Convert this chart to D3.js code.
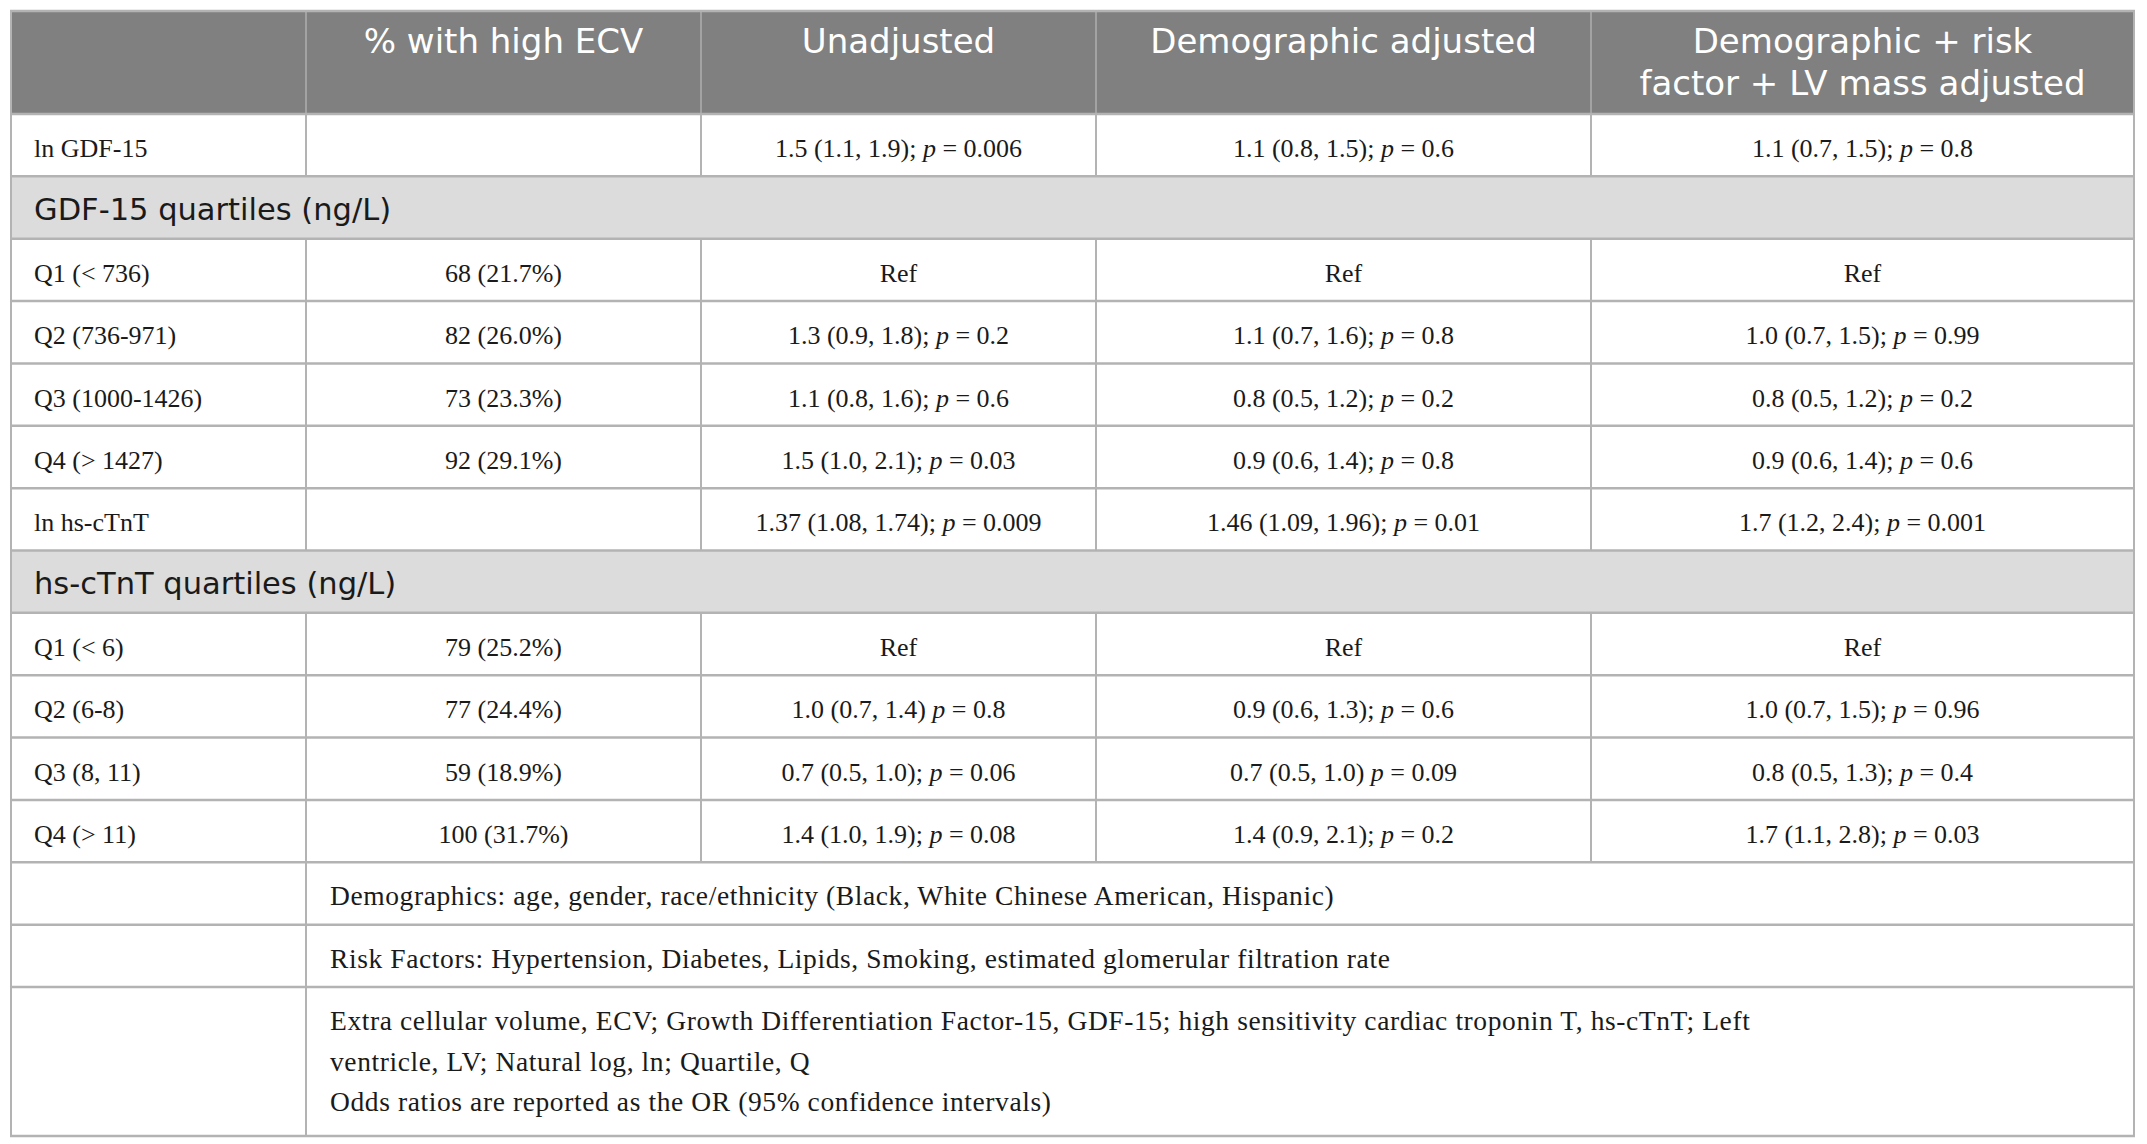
<!DOCTYPE html>
<html>
<head>
<meta charset="utf-8">
<script src="https://cdn.jsdelivr.net/npm/d3@7"></script>
<style>
  body { margin: 0; background: #fff; }
  svg { display: block; }
</style>
</head>
<body>
<div id="table"></div>
<script>
// datos de la tabla
const headers = [[""], ["% with high ECV"], ["Unadjusted"], ["Demographic adjusted"], ["Demographic + risk", "factor + LV mass adjusted"]];

const lnGdf = ["ln GDF-15", "", "1.5 (1.1, 1.9); p = 0.006", "1.1 (0.8, 1.5); p = 0.6", "1.1 (0.7, 1.5); p = 0.8"];
const gdfSection = "GDF-15 quartiles (ng/L)";
const gdfLabels = ["Q1 (< 736)", "Q2 (736-971)", "Q3 (1000-1426)", "Q4 (> 1427)"];
const gdfHighEcv = ["68 (21.7%)", "82 (26.0%)", "73 (23.3%)", "92 (29.1%)"];
const gdfUnadjusted = ["Ref", "1.3 (0.9, 1.8); p = 0.2", "1.1 (0.8, 1.6); p = 0.6", "1.5 (1.0, 2.1); p = 0.03"];
const gdfDemographic = ["Ref", "1.1 (0.7, 1.6); p = 0.8", "0.8 (0.5, 1.2); p = 0.2", "0.9 (0.6, 1.4); p = 0.8"];
const gdfFull = ["Ref", "1.0 (0.7, 1.5); p = 0.99", "0.8 (0.5, 1.2); p = 0.2", "0.9 (0.6, 1.4); p = 0.6"];

const lnTnt = ["ln hs-cTnT", "", "1.37 (1.08, 1.74); p = 0.009", "1.46 (1.09, 1.96); p = 0.01", "1.7 (1.2, 2.4); p = 0.001"];
const tntSection = "hs-cTnT quartiles (ng/L)";
const tntLabels = ["Q1 (< 6)", "Q2 (6-8)", "Q3 (8, 11)", "Q4 (> 11)"];
const tntHighEcv = ["79 (25.2%)", "77 (24.4%)", "59 (18.9%)", "100 (31.7%)"];
const tntUnadjusted = ["Ref", "1.0 (0.7, 1.4) p = 0.8", "0.7 (0.5, 1.0); p = 0.06", "1.4 (1.0, 1.9); p = 0.08"];
const tntDemographic = ["Ref", "0.9 (0.6, 1.3); p = 0.6", "0.7 (0.5, 1.0) p = 0.09", "1.4 (0.9, 2.1); p = 0.2"];
const tntFull = ["Ref", "1.0 (0.7, 1.5); p = 0.96", "0.8 (0.5, 1.3); p = 0.4", "1.7 (1.1, 2.8); p = 0.03"];

const notes = [
  ["Demographics: age, gender, race/ethnicity (Black, White Chinese American, Hispanic)"],
  ["Risk Factors: Hypertension, Diabetes, Lipids, Smoking, estimated glomerular filtration rate"],
  ["Extra cellular volume, ECV; Growth Differentiation Factor-15, GDF-15; high sensitivity cardiac troponin T, hs-cTnT; Left",
   "ventricle, LV; Natural log, ln; Quartile, Q",
   "Odds ratios are reported as the OR (95% confidence intervals)"]
];

// armar las filas
const quartileRows = (labels, ecv, un, dem, full) =>
  labels.map((l, i) => ({ type: "data", cells: [l, ecv[i], un[i], dem[i], full[i]] }));

const rows = [
  { type: "data", cells: lnGdf },
  { type: "section", text: gdfSection },
  ...quartileRows(gdfLabels, gdfHighEcv, gdfUnadjusted, gdfDemographic, gdfFull),
  { type: "data", cells: lnTnt },
  { type: "section", text: tntSection },
  ...quartileRows(tntLabels, tntHighEcv, tntUnadjusted, tntDemographic, tntFull),
  ...notes.map((lines) => ({ type: "note", lines }))
];

// dimensiones
const width = 2147, height = 1144;
const colEdges = [11, 306, 701, 1096, 1591, 2134];
const tableTop = 11, headerBottom = 114, bodyBottom = 987, lastBottom = 1136;
const lineColor = "#b3b3b3";
const serif = "'Liberation Serif', 'Times New Roman', serif";
const sans = "'DejaVu Sans', 'Open Sans', sans-serif";

const colX = d3.scaleOrdinal().domain(d3.range(6)).range(colEdges);
const shortRows = rows.slice(0, rows.length - 1);
const y = d3.scaleBand().domain(d3.range(shortRows.length)).range([headerBottom, bodyBottom]).padding(0);
const rowTop = (i) => (i < shortRows.length ? y(i) : bodyBottom);
const rowH = (i) => (i < shortRows.length ? y.bandwidth() : lastBottom - bodyBottom);

const svg = d3.select("#table").append("svg").attr("width", width).attr("height", height);

// fondo del encabezado
svg.append("rect")
  .attr("x", colX(0)).attr("y", tableTop)
  .attr("width", colX(5) - colX(0)).attr("height", headerBottom - tableTop)
  .attr("fill", "#808080");

// fondo de secciones
svg.selectAll("rect.section")
  .data(rows.map((r, i) => ({ r, i })).filter((d) => d.r.type === "section"))
  .join("rect")
  .attr("class", "section")
  .attr("x", colX(0)).attr("y", (d) => rowTop(d.i))
  .attr("width", colX(5) - colX(0)).attr("height", (d) => rowH(d.i))
  .attr("fill", "#dcdcdc");

// lineas verticales
const vLines = [];
for (let c = 1; c < 5; c++) {
  vLines.push({ x: colX(c), y1: tableTop, y2: headerBottom, color: "#a3a3a3" });
}
rows.forEach((r, i) => {
  if (r.type === "data") {
    for (let c = 1; c < 5; c++) vLines.push({ x: colX(c), y1: rowTop(i), y2: rowTop(i) + rowH(i), color: lineColor });
  } else if (r.type === "note") {
    vLines.push({ x: colX(1), y1: rowTop(i), y2: rowTop(i) + rowH(i), color: lineColor });
  }
});
vLines.push({ x: colX(0), y1: tableTop, y2: lastBottom, color: lineColor });
vLines.push({ x: colX(5), y1: tableTop, y2: lastBottom, color: lineColor });

svg.selectAll("line.v").data(vLines).join("line")
  .attr("class", "v")
  .attr("x1", (d) => d.x).attr("x2", (d) => d.x)
  .attr("y1", (d) => d.y1).attr("y2", (d) => d.y2)
  .attr("stroke", (d) => d.color).attr("stroke-width", 2);

// lineas horizontales
const hLines = [tableTop, headerBottom, ...rows.map((r, i) => rowTop(i) + rowH(i))];
svg.selectAll("line.h").data(hLines).join("line")
  .attr("class", "h")
  .attr("x1", colX(0) - 1).attr("x2", colX(5) + 1)
  .attr("y1", (d) => d).attr("y2", (d) => d)
  .attr("stroke", lineColor).attr("stroke-width", 2.5);

// encabezados
headers.forEach((lines, c) => {
  lines.forEach((line, k) => {
    svg.append("text")
      .attr("x", (colX(c) + colX(c + 1)) / 2)
      .attr("y", tableTop + 42 + k * 42)
      .attr("text-anchor", "middle")
      .attr("font-family", sans)
      .attr("font-size", 34)
      .attr("fill", "#fff")
      .text(line);
  });
});

// texto con p en cursiva
const writeCell = (sel, str) => {
  const parts = str.split(/(?<=\s|^)p(?= =)/);
  parts.forEach((part, k) => {
    if (k > 0) sel.append("tspan").attr("font-style", "italic").text("p");
    sel.append("tspan").text(part);
  });
};

rows.forEach((r, i) => {
  const base = rowTop(i) + rowH(i) / 2 + 12;
  if (r.type === "section") {
    svg.append("text")
      .attr("x", colX(0) + 23).attr("y", base)
      .attr("font-family", sans).attr("font-size", 30.5).attr("fill", "#1a1a1a")
      .text(r.text);
  } else if (r.type === "data") {
    r.cells.forEach((cell, c) => {
      const t = svg.append("text")
        .attr("x", c === 0 ? colX(0) + 23 : (colX(c) + colX(c + 1)) / 2)
        .attr("y", base)
        .attr("text-anchor", c === 0 ? "start" : "middle")
        .attr("font-family", serif).attr("font-size", 26).attr("fill", "#1a1a1a");
      writeCell(t, cell);
    });
  } else {
    const n = r.lines.length;
    r.lines.forEach((line, k) => {
      svg.append("text")
        .attr("x", colX(1) + 24)
        .attr("y", n === 1 ? base : rowTop(i) + 43 + k * 40.5)
        .attr("font-family", serif).attr("font-size", 27.5)
        .attr("letter-spacing", 0.6).attr("fill", "#1a1a1a")
        .text(line);
    });
  }
});
</script>
</body>
</html>
